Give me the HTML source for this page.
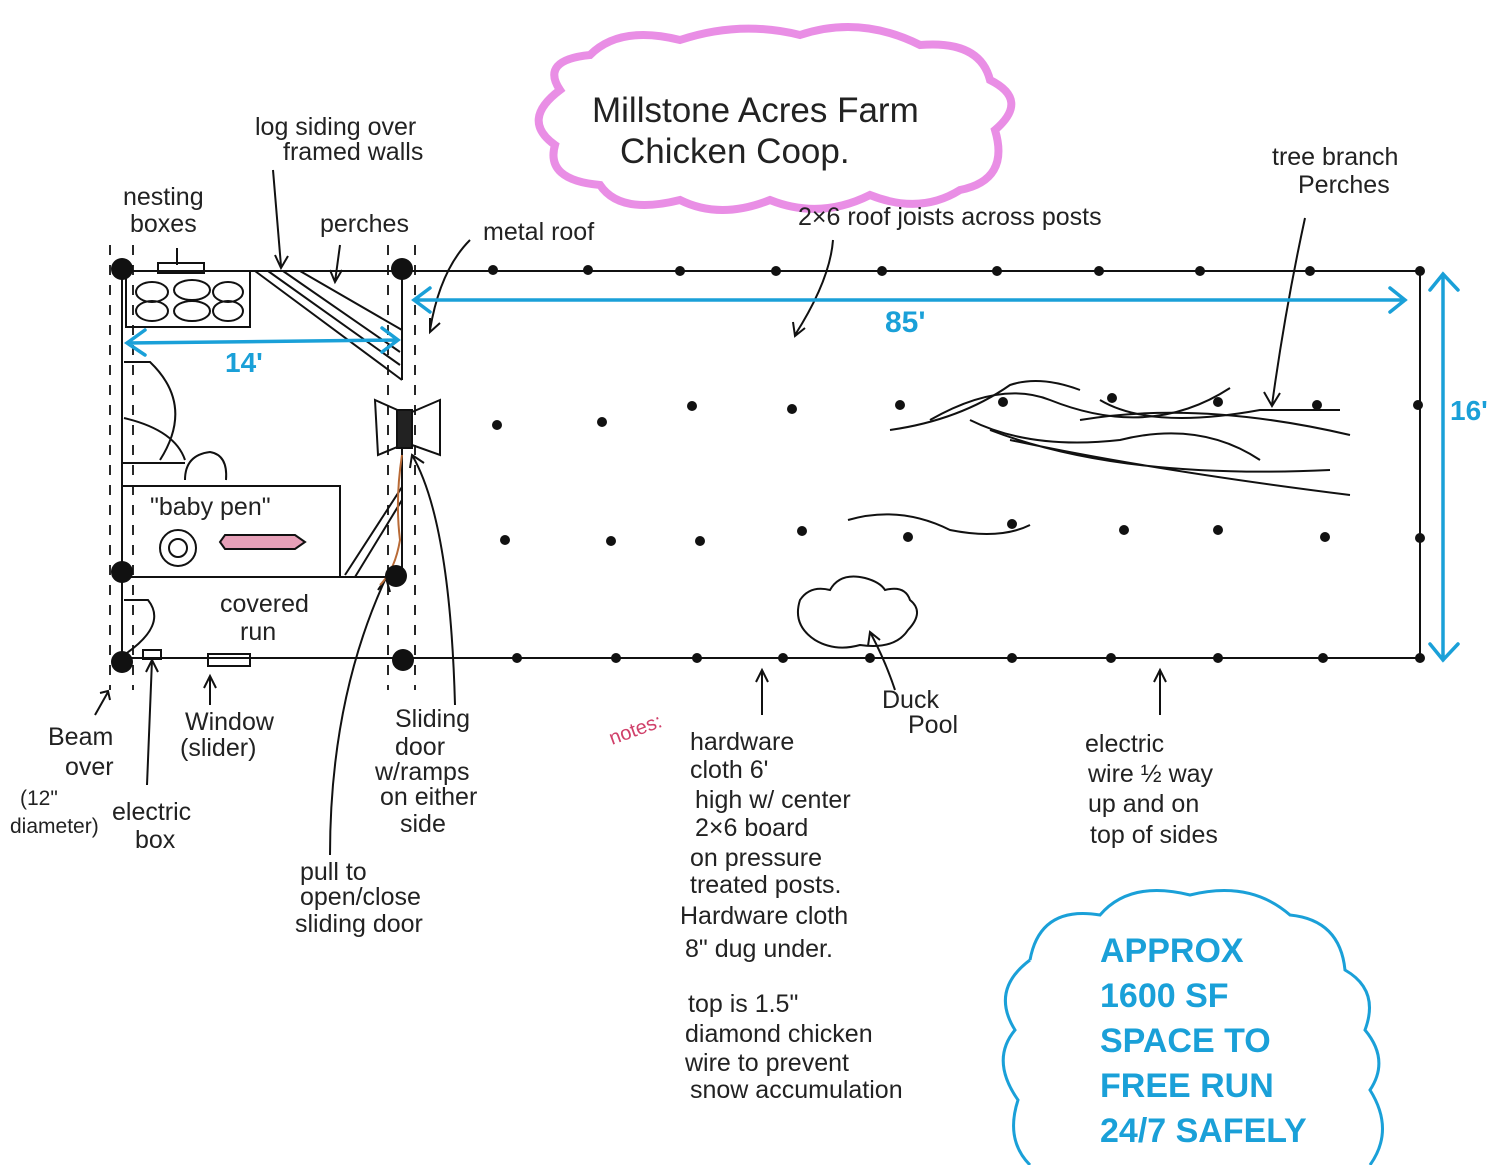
<!DOCTYPE html>
<html><head><meta charset="utf-8"><style>
html,body{margin:0;padding:0;background:#fff}
svg{display:block}
text{font-family:"Liberation Sans",sans-serif;fill:#222}
.b{fill:#1aa0d8;font-weight:bold}
</style></head><body>
<svg width="1500" height="1165" viewBox="0 0 1500 1165" xmlns="http://www.w3.org/2000/svg">
<g fill="none" stroke="#111" stroke-width="2">
<path d="M122 271 H1420 V658 H122"/>
<path d="M122 271 V658 M402 271 V380 M402 410 V575"/>
<path d="M122 577 H402"/>
<path d="M122 463 H185 M122 486 H340 V577"/>
<rect x="126" y="271" width="124" height="56"/>
<rect x="158" y="263" width="46" height="10"/>
<ellipse cx="152" cy="292" rx="16" ry="10"/><ellipse cx="192" cy="290" rx="18" ry="10"/><ellipse cx="228" cy="292" rx="15" ry="10"/>
<ellipse cx="152" cy="311" rx="16" ry="10"/><ellipse cx="192" cy="311" rx="18" ry="10"/><ellipse cx="228" cy="311" rx="15" ry="10"/>
<path d="M255 271 L402 380 M268 271 L400 365 M283 271 L400 352 M300 271 L402 330"/>
<path d="M124 362 H150 Q195 405 160 460 M124 418 Q175 430 185 460"/>
<path d="M185 480 Q185 455 210 452 Q228 455 226 480"/>
<path d="M124 600 H148 Q168 625 124 655"/>
<path d="M345 575 L402 487 M355 577 L402 500"/>
<path d="M375 400 L402 412 L402 445 L378 455 Z M440 400 L412 412 L412 445 L440 455 Z"/>
<rect x="397" y="410" width="15" height="38" fill="#222"/>
<rect x="143" y="650" width="18" height="9"/>
<rect x="208" y="654" width="42" height="12"/>
<circle cx="178" cy="548" r="18"/><circle cx="178" cy="548" r="9"/>
<path d="M225 535 H295 L305 542 L295 549 H225 L220 542 Z" fill="#e7a0b8"/>
<g stroke-dasharray="10 10" stroke-width="1.8">
<path d="M110 245 V690 M133 245 V690 M388 245 V690 M415 245 V690"/>
</g>
<path d="M800 600 Q810 585 830 590 Q840 572 865 578 Q880 582 885 590 Q905 585 910 600 Q925 612 908 630 Q895 650 860 645 Q835 652 815 640 Q792 625 800 600 Z"/>
<path d="M890 430 Q960 420 1010 385 Q1040 375 1080 390"/>
<path d="M930 420 Q1000 380 1050 400 Q1150 440 1230 388"/>
<path d="M970 420 Q1030 450 1120 440 Q1200 420 1260 460"/>
<path d="M990 430 Q1120 480 1330 470 M1010 440 Q1150 470 1350 495"/>
<path d="M1080 420 Q1200 400 1350 435 M1100 400 Q1150 430 1260 410 Q1320 410 1340 410"/>
<path d="M848 520 Q900 505 950 530 Q1000 540 1030 525"/>
<path d="M273 170 L281 266 M275 255 L281 268 L288 256"/>
<path d="M340 245 L335 282 M330 270 L335 282 L342 270"/>
<path d="M470 240 Q440 270 430 330 M430 318 L430 332 L440 323"/>
<path d="M833 240 Q830 280 795 335 M793 322 L795 336 L805 328"/>
<path d="M1305 218 Q1285 310 1272 405 M1264 392 L1272 406 L1280 393"/>
<path d="M177 248 V265"/>
<path d="M95 715 L108 692 M100 693 L108 691 L110 700"/>
<path d="M147 785 L152 660 M146 672 L152 660 L158 672"/>
<path d="M210 705 V677 M204 688 L210 676 L216 688"/>
<path d="M455 705 Q450 520 412 455 M410 468 L412 455 L424 463"/>
<path d="M330 855 Q330 700 385 580 M378 590 L386 578 L390 592"/>
<path d="M762 715 V670 M756 682 L762 670 L768 682"/>
<path d="M895 690 Q885 660 870 632 M868 646 L870 632 L880 640"/>
<path d="M1160 715 V670 M1154 682 L1160 670 L1166 682"/>
</g>
<path d="M402 455 Q395 500 400 540 Q395 570 380 585" fill="none" stroke="#b86a36" stroke-width="2"/>
<g fill="#111">
<g><circle cx="122" cy="269" r="11"/><circle cx="402" cy="269" r="11"/><circle cx="122" cy="572" r="11"/><circle cx="396" cy="576" r="11"/><circle cx="122" cy="662" r="11"/><circle cx="403" cy="660" r="11"/></g>
<g>
<circle cx="493" cy="270" r="5"/><circle cx="588" cy="270" r="5"/><circle cx="680" cy="271" r="5"/><circle cx="776" cy="271" r="5"/><circle cx="882" cy="271" r="5"/><circle cx="997" cy="271" r="5"/><circle cx="1099" cy="271" r="5"/><circle cx="1200" cy="271" r="5"/><circle cx="1310" cy="271" r="5"/><circle cx="1420" cy="271" r="5"/>
<circle cx="497" cy="425" r="5"/><circle cx="602" cy="422" r="5"/><circle cx="692" cy="406" r="5"/><circle cx="792" cy="409" r="5"/><circle cx="900" cy="405" r="5"/><circle cx="1003" cy="402" r="5"/><circle cx="1112" cy="398" r="5"/><circle cx="1218" cy="402" r="5"/><circle cx="1317" cy="405" r="5"/><circle cx="1418" cy="405" r="5"/>
<circle cx="505" cy="540" r="5"/><circle cx="611" cy="541" r="5"/><circle cx="700" cy="541" r="5"/><circle cx="802" cy="531" r="5"/><circle cx="908" cy="537" r="5"/><circle cx="1012" cy="524" r="5"/><circle cx="1124" cy="530" r="5"/><circle cx="1218" cy="530" r="5"/><circle cx="1325" cy="537" r="5"/><circle cx="1420" cy="538" r="5"/>
<circle cx="517" cy="658" r="5"/><circle cx="616" cy="658" r="5"/><circle cx="697" cy="658" r="5"/><circle cx="783" cy="658" r="5"/><circle cx="870" cy="658" r="5"/><circle cx="1012" cy="658" r="5"/><circle cx="1111" cy="658" r="5"/><circle cx="1218" cy="658" r="5"/><circle cx="1323" cy="658" r="5"/><circle cx="1420" cy="658" r="5"/>
</g></g>
<g stroke="#1aa0d8" stroke-width="3.5" fill="none" stroke-linecap="round">
<path d="M414 300 H1405 M430 288 L414 300 L430 312 M1390 288 L1405 300 L1390 312"/>
<path d="M127 343 L398 340 M145 330 L127 343 L145 355 M382 328 L398 340 L382 352"/>
<path d="M1443 274 V660 M1430 290 L1443 274 L1458 290 M1430 644 L1443 660 L1458 644"/>
</g>
<text class="b" x="885" y="332" font-size="30">85'</text>
<text class="b" x="225" y="372" font-size="28">14'</text>
<text class="b" x="1450" y="420" font-size="28">16'</text>
<path d="M560 90 Q540 60 590 55 Q620 25 680 40 Q740 20 800 35 Q860 15 920 45 Q980 40 990 80 Q1030 100 995 130 Q1010 180 960 190 Q920 215 870 195 Q820 220 770 200 Q720 220 680 200 Q620 215 600 185 Q545 180 555 145 Q520 120 560 90 Z" fill="none" stroke="#e98ee5" stroke-width="8"/>
<text x="592" y="122" font-size="35">Millstone Acres Farm</text>
<text x="620" y="163" font-size="35">Chicken Coop.</text>
<path d="M1030 960 Q1040 905 1100 915 Q1130 880 1190 895 Q1250 880 1290 915 Q1340 920 1345 970 Q1380 990 1365 1030 Q1390 1060 1370 1090 Q1395 1130 1370 1165 M1030 960 Q990 990 1015 1030 Q990 1060 1018 1100 Q1005 1140 1030 1165" fill="none" stroke="#1aa0d8" stroke-width="3"/>
<g font-size="34">
<text class="b" x="1100" y="962">APPROX</text>
<text class="b" x="1100" y="1007">1600 SF</text>
<text class="b" x="1100" y="1052">SPACE TO</text>
<text class="b" x="1100" y="1097">FREE RUN</text>
<text class="b" x="1100" y="1142">24/7 SAFELY</text>
</g>
<g font-size="25">
<text x="255" y="135">log siding over</text>
<text x="283" y="160">framed  walls</text>
<text x="123" y="205">nesting</text>
<text x="130" y="232">boxes</text>
<text x="320" y="232">perches</text>
<text x="483" y="240">metal roof</text>
<text x="798" y="225">2×6 roof joists across posts</text>
<text x="1272" y="165">tree branch</text>
<text x="1298" y="193">Perches</text>
<text x="150" y="515">"baby pen"</text>
<text x="220" y="612">covered</text>
<text x="240" y="640">run</text>
<text x="48" y="745">Beam</text>
<text x="65" y="775">over</text>
<text x="20" y="805" font-size="21">(12"</text>
<text x="10" y="833" font-size="21">diameter)</text>
<text x="112" y="820">electric</text>
<text x="135" y="848">box</text>
<text x="185" y="730">Window</text>
<text x="180" y="756">(slider)</text>
<text x="395" y="727">Sliding</text>
<text x="395" y="755">door</text>
<text x="375" y="780">w/ramps</text>
<text x="380" y="805">on either</text>
<text x="400" y="832">side</text>
<text x="300" y="880">pull to</text>
<text x="300" y="905">open/close</text>
<text x="295" y="932">sliding door</text>
<text x="612" y="745" font-size="20" style="fill:#d0406a" transform="rotate(-20 612 745)">notes:</text>
<text x="690" y="750">hardware</text>
<text x="690" y="778">cloth 6'</text>
<text x="695" y="808">high w/ center</text>
<text x="695" y="836">2×6 board</text>
<text x="690" y="866">on pressure</text>
<text x="690" y="893">treated posts.</text>
<text x="680" y="924">Hardware cloth</text>
<text x="685" y="957">8" dug under.</text>
<text x="688" y="1012">top is 1.5"</text>
<text x="685" y="1042">diamond chicken</text>
<text x="685" y="1071">wire to prevent</text>
<text x="690" y="1098">snow accumulation</text>
<text x="882" y="708">Duck</text>
<text x="908" y="733">Pool</text>
<text x="1085" y="752">electric</text>
<text x="1088" y="782">wire ½ way</text>
<text x="1088" y="812">up and on</text>
<text x="1090" y="843">top of sides</text>
</g>
</svg>
</body></html>
